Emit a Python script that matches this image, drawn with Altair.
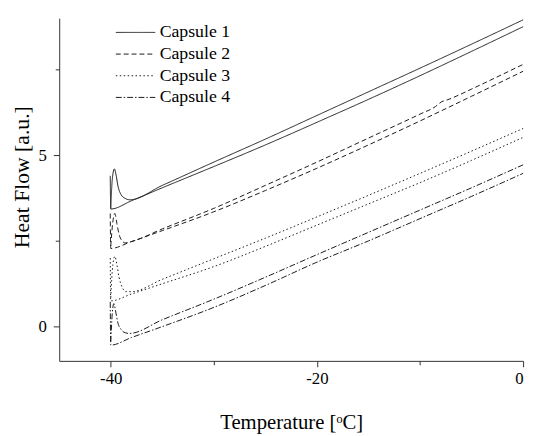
import altair as alt
import pandas as pd

capsules = ["Capsule 1", "Capsule 2", "Capsule 3", "Capsule 4"]

# Capsule 1 (solid)
c1a_x = [-40.0, -39.85, -39.65, -39.5, -39.3, -39.0, -38.6, -38.15, -35, -30, -25, -20, -15, -10, -5, 0]
c1a_y = [3.45, 4.3, 4.6, 4.45, 4.1, 3.85, 3.74, 3.70, 4.12, 4.80, 5.47, 6.16, 6.85, 7.54, 8.24, 8.95]
c1b_x = [-40.05, -40.0, -38, -35, -30, -25, -20, -15, -10, -5, 0]
c1b_y = [4.4, 3.43, 3.67, 4.05, 4.67, 5.30, 5.96, 6.63, 7.32, 8.03, 8.75]

# Capsule 2 (dashed)
c2a_x = [-40.0, -39.8, -39.6, -39.4, -39.2, -38.9, -38.6, -38, -35, -30, -25, -20, -15, -10, -8.5, -7.9, -7.3, -6.5, -5, 0]
c2a_y = [2.35, 3.05, 3.3, 3.0, 2.7, 2.5, 2.44, 2.48, 2.85, 3.45, 4.12, 4.80, 5.50, 6.20, 6.42, 6.56, 6.62, 6.72, 6.93, 7.65]
c2b_x = [-40.05, -40.0, -38, -35, -30, -25, -20, -15, -10, -5, 0]
c2b_y = [3.3, 2.28, 2.48, 2.80, 3.35, 3.97, 4.62, 5.30, 6.0, 6.72, 7.45]

# Capsule 3 (dotted)
c3a_x = [-40.0, -39.8, -39.6, -39.4, -39.2, -38.9, -38.5, -38, -35, -30, -25, -20, -15, -10, -5, 0]
c3a_y = [0.85, 1.8, 2.05, 1.8, 1.45, 1.15, 1.02, 1.02, 1.38, 1.98, 2.58, 3.20, 3.83, 4.47, 5.12, 5.78]
c3b_x = [-40.05, -40.0, -38, -35, -30, -25, -20, -15, -10, -5, 0]
c3b_y = [2.0, 0.75, 0.95, 1.25, 1.75, 2.34, 2.96, 3.58, 4.2, 4.85, 5.52]

# Capsule 4 (dash-dot)
c4a_x = [-40.0, -39.85, -39.7, -39.5, -39.3, -39.0, -38.6, -38.2, -35, -30, -25, -20, -15, -10, -5, 0]
c4a_y = [-0.45, 0.4, 0.67, 0.4, 0.1, -0.08, -0.18, -0.2, 0.2, 0.8, 1.44, 2.10, 2.75, 3.40, 4.05, 4.72]
c4b_x = [-40.05, -40.0, -38, -35, -30, -25, -20, -15, -10, -5, 0]
c4b_y = [0.72, -0.54, -0.32, 0.0, 0.56, 1.2, 1.88, 2.5, 3.15, 3.8, 4.47]

x_major = [-40, -20, 0]
x_minor = [-30, -10]
y_major = [0, 5]
y_minor = [2.5, 7.5]

series = [
    ("Capsule 1", "a", c1a_x, c1a_y), ("Capsule 1", "b", c1b_x, c1b_y),
    ("Capsule 2", "a", c2a_x, c2a_y), ("Capsule 2", "b", c2b_x, c2b_y),
    ("Capsule 3", "a", c3a_x, c3a_y), ("Capsule 3", "b", c3b_x, c3b_y),
    ("Capsule 4", "a", c4a_x, c4a_y), ("Capsule 4", "b", c4b_x, c4b_y),
]
rows = []
for cap, run, xs, ys in series:
    for i, (xv, yv) in enumerate(zip(xs, ys)):
        rows.append({"capsule": cap, "series": cap + "-" + run, "x": xv, "y": yv, "i": i})
df = pd.DataFrame(rows)

FONT = "Liberation Serif"
INK = "#1a1a1a"
AX = "#333333"

xscale = alt.Scale(domain=[-45, 0], nice=False, zero=False)
yscale = alt.Scale(domain=[-1, 9], nice=False, zero=False)
dashes = [[1, 0], [5, 3], [1.5, 2.5], [6, 2, 1.5, 2]]

lines = alt.Chart(df).mark_line(strokeWidth=1, color=INK, interpolate="monotone").encode(
    x=alt.X("x:Q", scale=xscale, axis=alt.Axis(
        values=x_major, title="Temperature [ᵒC]",
        labelExpr="datum.value < 0 ? '-' + abs(datum.value) : '' + datum.value",
        tickSize=6, labelPadding=4, labelFontSize=17, labelFont=FONT, titleFont=FONT,
        titleFontSize=21, titleY=69, titleBaseline="alphabetic", titleAlign="center")),
    y=alt.Y("y:Q", scale=yscale, axis=alt.Axis(
        values=y_major, title="Heat Flow [a.u.]",
        tickSize=6, labelPadding=7, labelFontSize=17, labelFont=FONT, titleFont=FONT,
        titleFontSize=22, titleX=-38, titleY=161, titleAngle=270,
        titleBaseline="middle", titleAlign="center")),
    strokeDash=alt.StrokeDash("capsule:N", scale=alt.Scale(domain=capsules, range=dashes),
        legend=alt.Legend(title=None, orient="none", legendX=57, legendY=4,
                          symbolType="M-1,0H3", symbolSize=400, symbolStrokeWidth=1,
                          symbolStrokeColor=INK, labelOffset=24, labelFontSize=18,
                          labelFont=FONT, labelColor="black", rowPadding=2, padding=0)),
    detail="series:N",
    order="i:Q",
)

minor = alt.Chart(df).mark_point(opacity=0).encode(
    x=alt.X("x:Q", scale=xscale, axis=alt.Axis(
        values=x_minor, labels=False, domain=False, tickSize=4, orient="bottom", title=None)),
    y=alt.Y("y:Q", scale=yscale, axis=alt.Axis(
        values=y_minor, labels=False, domain=False, tickSize=4, orient="left", title=None)),
)

chart = alt.layer(lines, minor).resolve_scale(x="independent", y="independent").properties(
    width=471, height=348,
    autosize=alt.AutoSizeParams(type="none"),
    padding={"left": 52, "top": 7, "right": 6, "bottom": 73},
).configure_view(stroke=None).configure_axis(
    grid=False, domainColor=AX, tickColor=AX, domainWidth=1, tickWidth=1,
    labelFont=FONT, titleFont=FONT, labelColor="black", titleColor="black",
    titleFontWeight="normal",
)

chart.save("out.html", embed_options={"renderer": "svg", "actions": False})
